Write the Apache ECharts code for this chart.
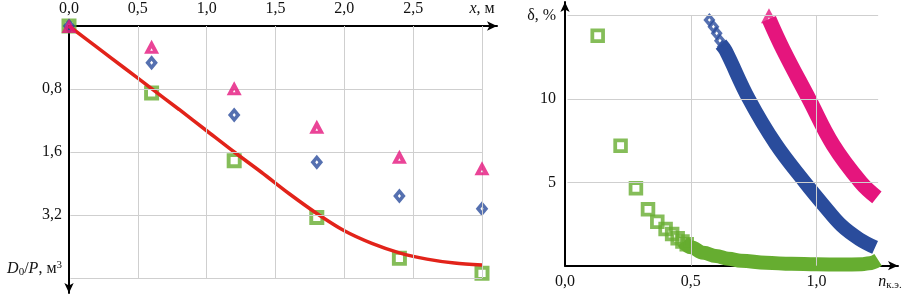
<!DOCTYPE html>
<html><head><meta charset="utf-8">
<script src="https://cdn.jsdelivr.net/npm/echarts@6/dist/echarts.min.js"></script>
<style>html,body{margin:0;padding:0;background:#fff}#c{width:903px;height:295px}</style>
</head><body><div id="c"></div>
<script>
// ---------- LEFT CHART DATA ----------
const leftX = [0, 0.6, 1.2, 1.8, 2.4, 3.0];
const leftSquares = [0, 0.85, 1.71, 2.43, 2.95, 3.14];
const leftDiamonds = [0, 0.466, 1.13, 1.73, 2.16, 2.32];
const leftTriangles = [0, 0.263, 0.791, 1.279, 1.66, 1.807];
const curveX = [0, 0.2, 0.4, 0.6, 0.8, 1.0, 1.2, 1.4, 1.6, 1.8, 2.0, 2.2, 2.4, 2.6, 2.8, 3.0];
const curveY = [0, 0.265, 0.53, 0.795, 1.06, 1.33, 1.6, 1.86, 2.13, 2.38, 2.60, 2.76, 2.88, 2.96, 3.01, 3.035];
const leftXTicks = [0, 0.5, 1.0, 1.5, 2.0, 2.5, 3.0];
const leftXTickLabels = ['0,0', '0,5', '1,0', '1,5', '2,0', '2,5', '{i|x}, м'];
const leftYTicks = [0, 0.8, 1.6, 2.4, 3.2];
const leftYTickLabels = ['', '0,8', '1,6', '3,2', '{i|D}{sub|0}/{i|P}, м{sup|3}\n'];

// ---------- RIGHT CHART DATA ----------
const rSquaresX = [0.130, 0.221, 0.282, 0.330, 0.367, 0.400, 0.426, 0.448, 0.467, 0.484];
const rSquaresY = [13.8, 7.2, 4.64, 3.38, 2.64, 2.2, 1.9, 1.65, 1.45, 1.28];
const rGreenBandX = [0.47, 0.5, 0.55, 0.6, 0.65, 0.7, 0.8, 0.9, 1.0, 1.1, 1.18, 1.21, 1.245];
const rGreenBandY = [1.45, 1.1, 0.78, 0.58, 0.42, 0.3, 0.17, 0.11, 0.08, 0.07, 0.08, 0.15, 0.35];
const rDiamondsX = [0.574, 0.590, 0.603, 0.616, 0.627];
const rDiamondsY = [14.74, 14.34, 13.94, 13.5, 13.14];
const rBlueBandX = [0.62, 0.639, 0.731, 0.838, 0.954, 1.03, 1.10, 1.17, 1.233];
const rBlueBandY = [13.3, 12.9, 10.0, 7.3, 5.0, 3.6, 2.4, 1.6, 1.1];
const rTriangleX = [0.811];
const rTriangleY = [15.0];
const rPinkBandX = [0.811, 0.868, 0.97, 1.066, 1.176, 1.24];
const rPinkBandY = [14.8, 12.94, 10.0, 7.24, 5.0, 4.1];
const rightXTicks = [0, 0.5, 1.0];
const rightXTickLabels = ['0,0', '0,5', '1,0'];
const rightYTicks = [0, 5, 10, 15];
const rightYTickLabels = ['', '5', '10', 'δ, %'];

// ---------- helpers ----------
const zip = (xs, ys) => xs.map((x, i) => [x, ys[i]]);
const labelFor = (ticks, labels) => (v) => {
  const i = ticks.findIndex(t => Math.abs(t - v) < 1e-6);
  return i < 0 ? '' : labels[i];
};
const FONT = 'Liberation Serif';
const GREEN = '#66ad30', BLUE = '#2a4c9c', PINK = '#e5157d', RED = '#e2231a', GRID = '#cfcfcf';
const SQ = 'path://M-7.5,-7.5L7.5,-7.5L7.5,7.5L-7.5,7.5Z M-3.6,-3.6L-3.6,3.6L3.6,3.6L3.6,-3.6Z';
const DI = 'path://M0,-7.5L6.3,0L0,7.5L-6.3,0Z M0,-2L-1.6,0L0,2L1.6,0Z';
const TR = 'path://M0,-8L7.5,6L-7.5,6Z M0,0.5L-1.3,3L1.3,3Z';
const rich = {
  i: {fontFamily: FONT, fontStyle: 'italic', fontSize: 16, color: '#111'},
  sub: {fontFamily: FONT, fontSize: 11, color: '#111', verticalAlign: 'bottom', padding: [6, 0, 0, 0]},
  sup: {fontFamily: FONT, fontSize: 11, color: '#111', verticalAlign: 'top', padding: [0, 0, 6, 0]}
};
const gridLine = {color: GRID, width: 1, type: 'solid'};
const axisLineStyle = {color: '#000', width: 2};
const axisLineEnd = {show: true, onZero: false, symbol: ['none', 'arrow'], symbolSize: [7, 10], lineStyle: axisLineStyle};
const axisLineStart = {show: true, onZero: false, symbol: ['arrow', 'none'], symbolSize: [7, 10], lineStyle: axisLineStyle};

const leftGridLines = [];
leftXTicks.slice(1).forEach(x => leftGridLines.push([{coord: [x, 0]}, {coord: [x, 3.2]}]));
leftYTicks.slice(1).forEach(y => leftGridLines.push([{coord: [0.01, y]}, {coord: [3.0, y]}]));
const rightGridLines = [];
rightXTicks.slice(1).forEach(x => rightGridLines.push([{coord: [x, 0]}, {coord: [x, 15]}]));
rightYTicks.slice(1).forEach(y => rightGridLines.push([{coord: [0.01, y]}, {coord: [1.245, y]}]));

const mk = (data) => ({silent: true, symbol: ['none', 'none'], label: {show: false}, lineStyle: gridLine, data: data, animation: false});

const chart = echarts.init(document.getElementById('c'));
chart.setOption({
  animation: false,
  backgroundColor: '#fff',
  grid: [
    {left: 69, top: 26, width: 428, height: 267, containLabel: false, outerBoundsMode: 'none'},
    {left: 565, top: 2, width: 333, height: 263.7, containLabel: false, outerBoundsMode: 'none'}
  ],
  xAxis: [
    {gridIndex: 0, type: 'value', position: 'top', min: 0, max: 3.109, interval: 0.5,
     axisLine: axisLineEnd, axisTick: {show: false}, splitLine: {show: false},
     axisLabel: {margin: 9, fontFamily: FONT, fontSize: 16, color: '#111', rich: rich, showMaxLabel: true,
                 formatter: labelFor(leftXTicks, leftXTickLabels)}},
    {gridIndex: 1, type: 'value', position: 'bottom', min: 0, max: 1.324, interval: 0.5,
     axisLine: axisLineEnd, axisTick: {show: false}, splitLine: {show: false},
     axisLabel: {margin: 8, fontFamily: FONT, fontSize: 16, color: '#111',
                 formatter: labelFor(rightXTicks, rightXTickLabels)},
     name: '{i|n}{sub|к.э.}', nameLocation: 'end', nameGap: -8,
     nameTextStyle: {align: 'center', verticalAlign: 'top', padding: [8, 0, 0, 0], fontFamily: FONT, fontSize: 16, color: '#111', rich: rich}}
  ],
  yAxis: [
    {gridIndex: 0, type: 'value', inverse: true, min: 0, max: 3.39, interval: 0.8,
     axisLine: axisLineStart, axisTick: {show: false}, splitLine: {show: false},
     axisLabel: {margin: 7, fontFamily: FONT, fontSize: 16, color: '#111', rich: rich, lineHeight: 18,
                 formatter: labelFor(leftYTicks, leftYTickLabels)}},
    {gridIndex: 1, type: 'value', min: 0, max: 15.82, interval: 5,
     axisLine: axisLineEnd, axisTick: {show: false}, splitLine: {show: false},
     axisLabel: {margin: 9, fontFamily: FONT, fontSize: 16, color: '#111',
                 formatter: labelFor(rightYTicks, rightYTickLabels)}}
  ],
  series: [
    // left
    {type: 'scatter', xAxisIndex: 0, yAxisIndex: 0, data: [], z: 1, markLine: mk(leftGridLines)},
    {type: 'scatter', xAxisIndex: 0, yAxisIndex: 0, data: zip(leftX, leftSquares), symbol: SQ, symbolSize: 15,
     itemStyle: {color: GREEN}, z: 3, clip: false},
    {type: 'scatter', xAxisIndex: 0, yAxisIndex: 0, data: zip(leftX, leftDiamonds), symbol: DI, symbolSize: [12.5, 15],
     itemStyle: {color: BLUE}, z: 3, clip: false},
    {type: 'line', xAxisIndex: 0, yAxisIndex: 0, data: zip(curveX, curveY), smooth: 0.3, showSymbol: false,
     lineStyle: {color: RED, width: 3.5}, z: 4},
    {type: 'scatter', xAxisIndex: 0, yAxisIndex: 0, data: zip(leftX, leftTriangles), symbol: TR, symbolSize: [15, 14],
     itemStyle: {color: PINK}, z: 5, clip: false},
    // right
    {type: 'scatter', xAxisIndex: 1, yAxisIndex: 1, data: [], z: 1, markLine: mk(rightGridLines)},
    {type: 'line', xAxisIndex: 1, yAxisIndex: 1, data: zip(rGreenBandX, rGreenBandY), smooth: 0.4, smoothMonotone: 'x',
     showSymbol: false, clip: false, lineStyle: {color: GREEN, width: 14}, z: 3},
    {type: 'scatter', xAxisIndex: 1, yAxisIndex: 1, data: zip(rSquaresX, rSquaresY), symbol: SQ, symbolSize: 14.5,
     itemStyle: {color: GREEN}, z: 3, clip: false},
    {type: 'line', xAxisIndex: 1, yAxisIndex: 1, data: zip(rBlueBandX, rBlueBandY), smooth: 0.4,
     showSymbol: false, clip: false, lineStyle: {color: BLUE, width: 14}, z: 4},
    {type: 'scatter', xAxisIndex: 1, yAxisIndex: 1, data: zip(rDiamondsX, rDiamondsY), symbol: DI, symbolSize: [12, 14],
     itemStyle: {color: BLUE}, z: 4, clip: false},
    {type: 'line', xAxisIndex: 1, yAxisIndex: 1, data: zip(rPinkBandX, rPinkBandY), smooth: 0.4,
     showSymbol: false, clip: false, lineStyle: {color: PINK, width: 15}, z: 4},
    {type: 'scatter', xAxisIndex: 1, yAxisIndex: 1, data: zip(rTriangleX, rTriangleY), symbol: TR, symbolSize: [16, 15],
     itemStyle: {color: PINK}, z: 4, clip: false}
  ]
});
</script></body></html>
